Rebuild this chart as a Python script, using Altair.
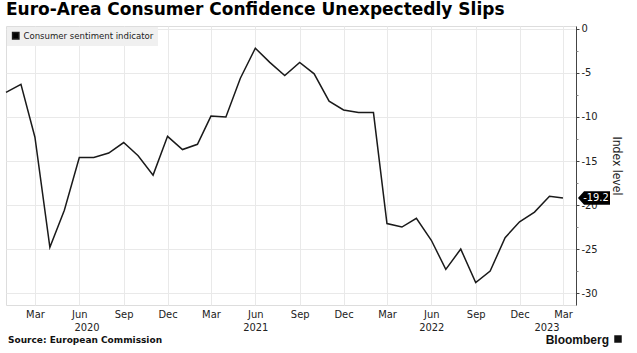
import altair as alt
import pandas as pd

# ---- data ----
months = pd.date_range("2020-01-01", "2023-03-01", freq="MS").strftime("%Y-%m-%d").tolist()
sentiment = [
    -7.2, -6.3, -12.3, -24.8, -20.6, -14.6, -14.6, -14.1, -12.9, -14.4, -16.6, -12.2,   # 2020
    -13.7, -13.1, -9.9, -10.0, -5.6, -2.2, -3.8, -5.3, -3.8, -5.1, -8.2, -9.2,          # 2021
    -9.5, -9.5, -22.1, -22.5, -21.5, -24.0, -27.3, -25.0, -28.8, -27.5, -23.7, -21.9,   # 2022
    -20.8, -19.0, -19.2,                                                                # 2023
]
series_name = "Consumer sentiment indicator"
y_ticks = [0, -5, -10, -15, -20, -25, -30]
y_minor = [-2.5, -7.5, -12.5, -17.5, -22.5, -27.5]
quarter_ticks = [(2020, 3), (2020, 6), (2020, 9), (2020, 12), (2021, 3), (2021, 6), (2021, 9),
                 (2021, 12), (2022, 3), (2022, 6), (2022, 9), (2022, 12), (2023, 3)]
year_label_pos = [(2020, 6, 16), (2021, 6, 1), (2022, 6, 1), (2023, 1, 26)]

df = pd.DataFrame({"date": months, "value": sentiment, "series": series_name})
last = df.tail(1).copy()
last["label"] = f"{sentiment[-1]:.1f}"

FONT = "'DejaVu Sans Condensed', 'Liberation Sans', sans-serif"
TXT = "#222222"
x_domain = [alt.DateTime(year=2020, month=1, date=1, utc=True),
            alt.DateTime(year=2023, month=3, date=28, utc=True)]
x_scale = alt.Scale(type="utc", domain=x_domain)
y_scale = alt.Scale(domain=[-31.35, 0.33], nice=False, zero=False)

line = alt.Chart(df).mark_line(strokeWidth=1.5).encode(
    x=alt.X("date:T", scale=x_scale, axis=alt.Axis(
        orient="bottom",
        values=[alt.DateTime(year=y, month=m, date=1, utc=True) for y, m in quarter_ticks],
        labelExpr="utcFormat(datum.value, '%b')",
        grid=True, gridColor="#e9e9e9", ticks=False, domain=False,
        labelPadding=3, labelFontSize=11, labelColor=TXT, labelFont=FONT, title=None)),
    y=alt.Y("value:Q", scale=y_scale, axis=alt.Axis(
        orient="right", values=y_ticks, labelExpr="'' + datum.value",
        grid=True, gridColor="#e9e9e9", domainColor="#444", tickColor="#444",
        tickSize=3, labelPadding=2, labelFontSize=11, labelColor=TXT, labelFont=FONT,
        title="Index level", titleFontSize=12, titleFont=FONT, titleFontWeight="normal",
        titleColor=TXT, titlePadding=12)),
    color=alt.Color("series:N", scale=alt.Scale(range=["#1a1a1a"]), legend=alt.Legend(
        orient="top-left", offset=1, title=None, fillColor="#f0f0f0", padding=4,
        symbolType="square", symbolSize=40, symbolFillColor="#000", symbolStrokeColor="#000",
        labelFontSize=9.5, labelFont=FONT, labelColor=TXT, labelOffset=3)),
)

tag_shape = "M-1,0L-0.62,-0.42L1,-0.42L1,0.42L-0.62,0.42Z"
tag = alt.Chart(last).mark_point(shape=tag_shape, filled=True, size=1024, opacity=1,
                                 color="#000", xOffset=31).encode(
    x=alt.X("date:T", scale=x_scale, axis=alt.Axis(
        orient="bottom",
        values=[alt.DateTime(year=y, month=m, date=d, utc=True) for y, m, d in year_label_pos],
        labelExpr="utcFormat(datum.value, '%Y')",
        grid=False, ticks=False, domain=False, labelPadding=16,
        labelFontSize=11, labelColor=TXT, labelFont=FONT, title=None)),
    y=alt.Y("value:Q", scale=y_scale, axis=alt.Axis(
        orient="right", values=y_minor, labels=False, grid=False, domain=False,
        tickSize=2, tickColor="#888", title=None)),
)

tag_text = alt.Chart(last).mark_text(color="white", fontSize=11, font=FONT, xOffset=33,
                                     align="center", baseline="middle").encode(
    x=alt.X("date:T", scale=x_scale, axis=None),
    y=alt.Y("value:Q", scale=y_scale, axis=None),
    text="label:N",
)

source = alt.Chart(pd.DataFrame({"t": ["Source: European Commission"]})).mark_text(
    font="DejaVu Sans", fontWeight="bold", fontSize=9, align="left", baseline="middle", color="#111"
).encode(x=alt.value(2), y=alt.value(314), text="t:N")

brand = alt.Chart(pd.DataFrame({"t": ["Bloomberg"]})).mark_text(
    font="Liberation Sans", fontWeight="bold", fontSize=12, align="right", baseline="middle", color="#111"
).encode(x=alt.value(603), y=alt.value(314), text="t:N")

brand_icon = alt.Chart(pd.DataFrame({"t": ["icon"]})).mark_point(
    shape="square", filled=True, size=56, opacity=1, color="#111"
).encode(x=alt.value(612), y=alt.value(313))

chart = alt.layer(line, tag, tag_text, source, brand, brand_icon).resolve_axis(
    x="independent", y="independent"
).properties(
    width=570, height=279,
    autosize=alt.AutoSizeParams(type="none"),
    padding={"left": 6, "top": 26, "right": 61, "bottom": 48},
    title=alt.TitleParams("Euro-Area Consumer Confidence Unexpectedly Slips", anchor="start",
                          font="DejaVu Sans", fontSize=17, fontWeight="bold", color="#000",
                          offset=4, frame="group"),
).configure_view(stroke=None).configure(background="white")

chart.save("out.html", embed_options={"renderer": "svg", "actions": False})
